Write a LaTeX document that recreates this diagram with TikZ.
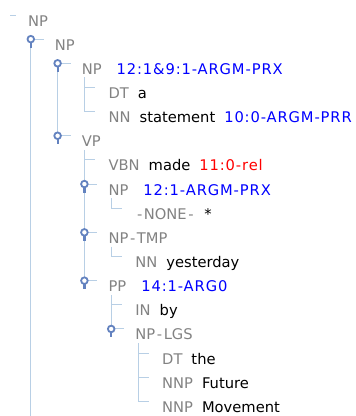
\documentclass[tikz,border=0pt]{standalone}
\usepackage{fontspec}
\setmainfont{DejaVu Sans}
\newfontfamily\lblfont[LetterSpace=6]{DejaVu Sans}

\definecolor{treeline}{RGB}{184,207,229}
\definecolor{knobblue}{RGB}{99,130,191}
\definecolor{taggray}{RGB}{130,130,130}
\definecolor{argblue}{RGB}{0,0,255}
\definecolor{relred}{RGB}{255,0,0}

\newcommand{\tg}[1]{\textcolor{taggray}{#1}}
\newcommand{\lbl}[2]{\textcolor{#1}{\lblfont #2}}
\newcommand{\hy}{\kern1.6pt-\kern1.6pt}

\tikzset{
    treeln/.style={treeline, line width=1pt},
    rowtext/.style={anchor=base west, inner sep=0pt, font=\fontsize{14.7}{16}\selectfont},
    knob/.style={circle, draw=knobblue, fill=white, line width=1.8pt, inner sep=0pt, minimum size=6.6pt},
    stem/.style={knobblue, line width=2.2pt},
}

\begin{document}
\begin{tikzpicture}[x=1pt, y=-1pt]

    \useasboundingbox (0,0) rectangle (356,416);
    \coordinate (bot) at (0,416);

    % 1. Diem noi cua tung dong (dong/muc)
    \foreach \i/\l in {0/0,1/1,2/2,3/3,4/3,5/2,6/3,7/3,8/4,9/3,10/4,11/3,12/4,13/4,14/5,15/5,16/5}
        \coordinate (k\i) at ({4+26.8*\l}, {15+24.15*\i});

    % 2. Duong doc cua cay
    \draw[treeln] (k1) -- (k1 |- bot);
    \draw[treeln] (k2) -- (k5);
    \draw[treeln] ([yshift=10pt]k3) -- (k4);
    \draw[treeln] ([yshift=10pt]k6) -- (k11);
    \draw[treeln] ([yshift=10pt]k8) -- (k8);
    \draw[treeln] ([yshift=10pt]k10) -- (k10);
    \draw[treeln] ([yshift=10pt]k12) -- (k13);
    \draw[treeln] ([yshift=10pt]k14) -- (k16);

    % 3. Nhanh ngang cua la
    \draw[treeln] ([xshift=6pt]k0) -- ++(6,0);
    \foreach \i in {3,4,6,8,10,12,14,15,16}
        \draw[treeln] (k\i) -- ++(11,0);

    % 4. Nut mo rong
    \foreach \i in {1,2,5,7,9,11,13} {
        \draw[treeln] (k\i) -- ++(13,0);
        \draw[stem] (k\i) -- ++(0,8.5);
        \node[knob] (h\i) at (k\i) {};
    }

    % 5. Nhan cua tung dong
    \node[rowtext] (r0) at ([xshift=24pt, yshift=-11pt]k0) {\tg{NP}};
    \node[rowtext] (r1) at ([xshift=24pt, yshift=-11pt]k1) {\tg{NP}};
    \node[rowtext] (r2) at ([xshift=24pt, yshift=-11pt]k2) {\tg{NP}\hspace{15pt}\lbl{argblue}{12:1\&9:1-ARGM-PRX}};
    \node[rowtext] (r3) at ([xshift=24pt, yshift=-11pt]k3) {\tg{DT}\hspace{9pt}a};
    \node[rowtext] (r4) at ([xshift=24pt, yshift=-11pt]k4) {\tg{NN}\hspace{9pt}statement\hspace{9pt}\lbl{argblue}{10:0-ARGM-PRR}};
    \node[rowtext] (r5) at ([xshift=24pt, yshift=-11pt]k5) {\tg{VP}};
    \node[rowtext] (r6) at ([xshift=24pt, yshift=-11pt]k6) {\tg{VBN}\hspace{9pt}made\hspace{9pt}\lbl{relred}{11:0-rel}};
    \node[rowtext] (r7) at ([xshift=24pt, yshift=-11pt]k7) {\tg{NP}\hspace{15pt}\lbl{argblue}{12:1-ARGM-PRX}};
    \node[rowtext] (r8) at ([xshift=24pt, yshift=-11pt]k8) {\tg{\hy NONE\hy}\hspace{9pt}*};
    \node[rowtext] (r9) at ([xshift=24pt, yshift=-11pt]k9) {\tg{NP\hy TMP}};
    \node[rowtext] (r10) at ([xshift=24pt, yshift=-11pt]k10) {\tg{NN}\hspace{9pt}yesterday};
    \node[rowtext] (r11) at ([xshift=24pt, yshift=-11pt]k11) {\tg{PP}\hspace{15pt}\lbl{argblue}{14:1-ARG0}};
    \node[rowtext] (r12) at ([xshift=24pt, yshift=-11pt]k12) {\tg{IN}\hspace{9pt}by};
    \node[rowtext] (r13) at ([xshift=24pt, yshift=-11pt]k13) {\tg{NP\hy LGS}};
    \node[rowtext] (r14) at ([xshift=24pt, yshift=-11pt]k14) {\tg{DT}\hspace{9pt}the};
    \node[rowtext] (r15) at ([xshift=24pt, yshift=-11pt]k15) {\tg{NNP}\hspace{9pt}Future};
    \node[rowtext] (r16) at ([xshift=24pt, yshift=-11pt]k16) {\tg{NNP}\hspace{9pt}Movement};

\end{tikzpicture}
\end{document}
